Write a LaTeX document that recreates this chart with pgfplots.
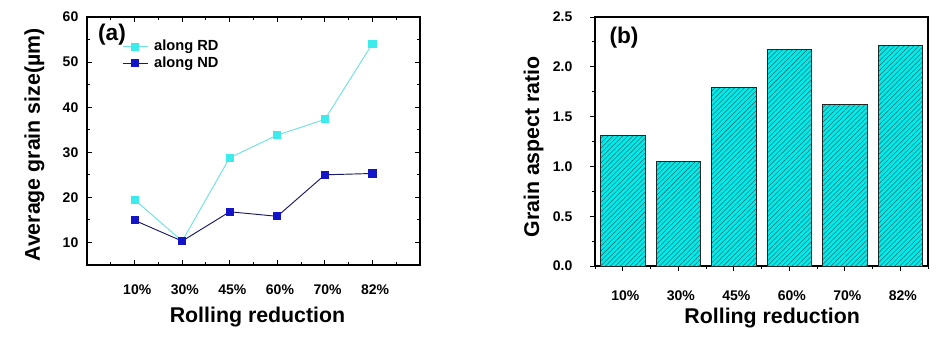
\documentclass[border=0pt]{standalone}
\usepackage{pgfplots}
\pgfplotsset{compat=1.18}
\usetikzlibrary{patterns.meta}
\usepackage{fontspec}
\setmainfont{Liberation Sans}
\definecolor{rdcol}{RGB}{60,235,235}
\definecolor{rdline}{RGB}{110,225,225}
\definecolor{ndcol}{RGB}{20,20,200}
\definecolor{ndline}{RGB}{25,25,100}
\definecolor{barfill}{RGB}{0,236,236}
\definecolor{hatch}{RGB}{30,105,105}
\begin{document}
\begin{tikzpicture}
\useasboundingbox (0,0) rectangle (709.5pt,260.25pt);
\pgfplotsset{
  common/.style={
    scale only axis,
    width=249.75pt,
    font=\bfseries,
    /pgf/number format/assume math mode=true,
    tick label style={font=\fontsize{10.5}{12}\selectfont\bfseries},
    label style={font=\fontsize{16}{18}\selectfont\bfseries},
    axis line style={line width=0.9pt},
    every tick/.style={black, line width=0.7pt},
    xtick={1,2,3,4,5,6},
    xticklabels={10\%,30\%,45\%,60\%,70\%,82\%},
    xticklabel style={yshift=-11.5pt, xshift=2pt},
    xlabel={Rolling reduction},
  }
}
\begin{axis}[common,
  at={(65.25pt,61.5pt)}, anchor=south west,
  height=186pt,
  xmin=0, xmax=7, ymin=5, ymax=60,
  ytick={10,20,30,40,50,60},
  minor ytick={15,25,35,45,55},
  minor xtick={0.5,1.5,2.5,3.5,4.5,5.5,6.5},
  tick align=inside,
  major tick length=4pt, minor tick length=2.5pt,
  yticklabel style={xshift=-3pt},
  xlabel style={at={(axis description cs:0.5,0)}, anchor=north, yshift=-28pt, xshift=3pt},
  ylabel={Average grain size(\textmu m)},
  ylabel style={at={(axis description cs:0,0.5)}, anchor=south, yshift=28.5pt, xshift=-3pt},
  legend style={draw=none, fill=none, at={(rel axis cs:0.105,0.915)}, anchor=north west,
    font=\fontsize{11}{11}\selectfont\bfseries, inner sep=0pt, row sep=0pt, column sep=3pt,
    nodes={inner sep=1.5pt}},
  legend cell align=left,
  legend image code/.code={
    \draw[#1, mark repeat=2, mark phase=2] plot coordinates {(0pt,0pt) (9.4pt,0pt) (18.8pt,0pt)};
  },
]
\addplot[rdline, line width=0.7pt, mark=square*, mark size=2.7pt, mark options={draw=rdcol, fill=rdcol}]
  coordinates {(1,19.5) (2,10.3) (3,28.8) (4,33.8) (5,37.3) (6,54.1)};
\addlegendentry{along RD}
\addplot[ndline, line width=0.7pt, mark=square*, mark size=2.7pt, mark options={draw=ndcol, fill=ndcol}]
  coordinates {(1,14.9) (2,10.3) (3,16.8) (4,15.8) (5,25.0) (6,25.3)};
\addlegendentry{along ND}
\node[font=\fontsize{17}{18}\selectfont\bfseries] at (rel axis cs:0.075,0.927) {(a)};
\end{axis}
\begin{axis}[common,
  at={(446.25pt,60.75pt)}, anchor=south west,
  height=186.75pt,
  xmin=0.5, xmax=6.5, ymin=0, ymax=2.5,
  ytick={0,0.5,1,1.5,2,2.5},
  minor ytick={0.25,0.75,1.25,1.75,2.25},
  minor xtick={0.5,1.5,2.5,3.5,4.5,5.5,6.5},
  tick align=outside, tick pos=left,
  major tick length=3.5pt, minor tick length=2pt,
  yticklabel style={/pgf/number format/.cd, fixed, fixed zerofill, precision=1, /tikz/.cd, xshift=-10pt},
  xlabel style={at={(axis description cs:0.5,0)}, anchor=north, yshift=-28pt, xshift=8pt},
  ylabel={Grain aspect ratio},
  ylabel style={at={(axis description cs:0,0.5)}, anchor=south, yshift=35pt, xshift=-4pt},
]
\addplot[ybar, bar width=0.8, draw=black!85, line width=0.6pt, fill=barfill,
  postaction={pattern={Lines[angle=45,distance=2.6pt,line width=0.4pt]}, pattern color=hatch}]
  coordinates {(1,1.31) (2,1.05) (3,1.79) (4,2.17) (5,1.62) (6,2.21)};
\node[font=\fontsize{17}{18}\selectfont\bfseries] at (rel axis cs:0.087,0.916) {(b)};
\end{axis}
\end{tikzpicture}
\end{document}
